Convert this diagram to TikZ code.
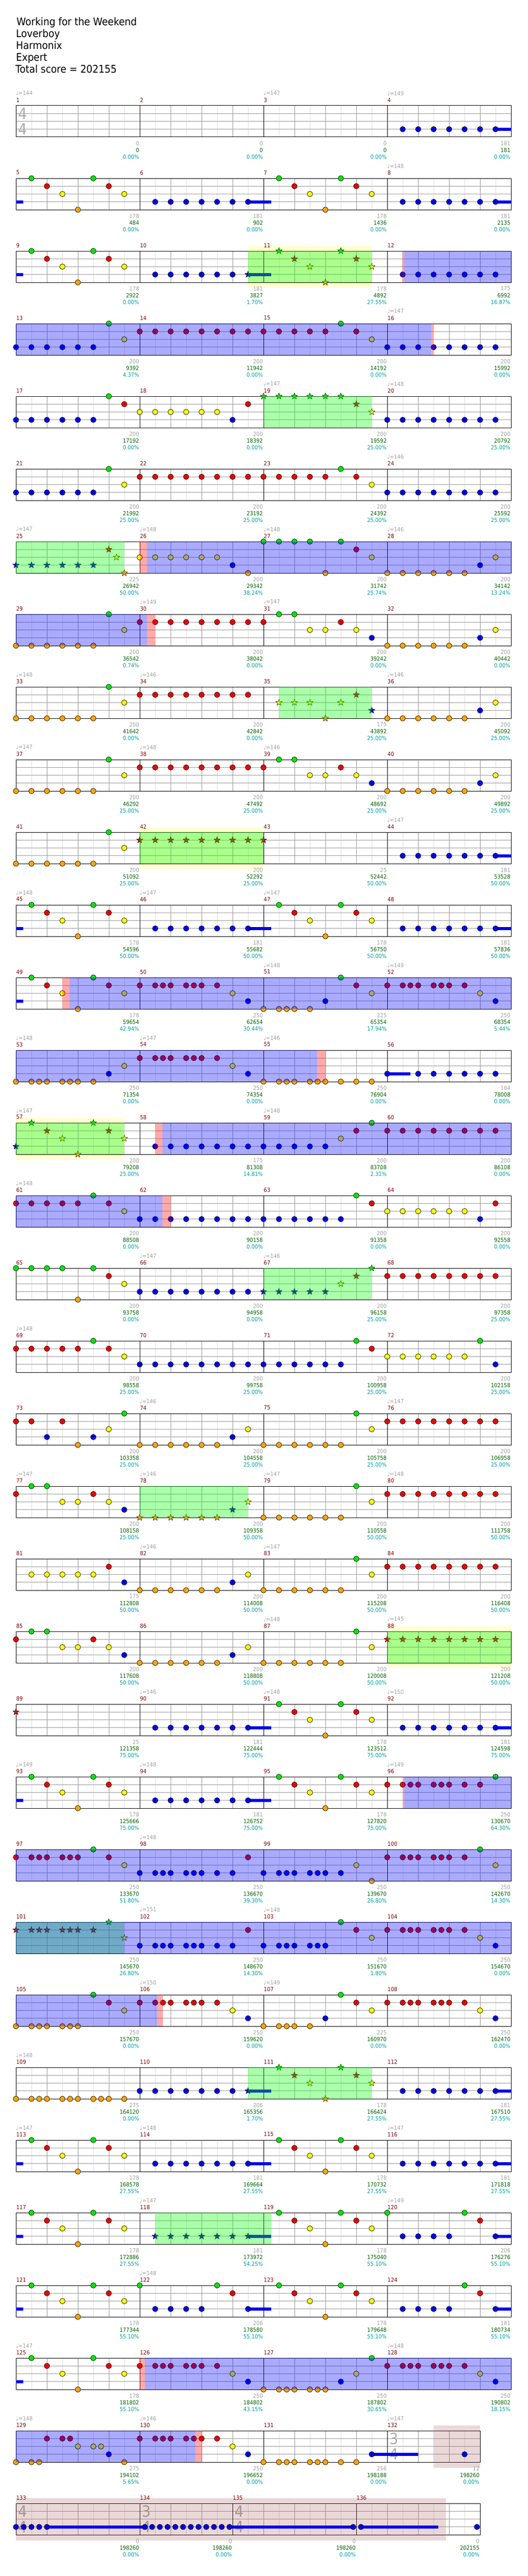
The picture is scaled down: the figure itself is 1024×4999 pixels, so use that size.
\documentclass[tikz,border=0pt]{standalone}
\usepackage{fontspec}
\setmainfont{DejaVu Sans}
\newfontfamily\cond[FakeStretch=0.9]{DejaVu Sans}
\usetikzlibrary{shapes.geometric}
\definecolor{lane0}{RGB}{0,232,0}
\definecolor{lane1}{RGB}{240,0,0}
\definecolor{lane2}{RGB}{255,255,0}
\definecolor{lane3}{RGB}{0,0,240}
\definecolor{lane4}{RGB}{255,165,0}
\definecolor{gridlight}{RGB}{221,221,221}
\definecolor{gridmid}{RGB}{153,153,153}
\definecolor{mnum}{RGB}{128,0,0}
\definecolor{txgray}{RGB}{160,160,160}
\definecolor{txgreen}{RGB}{0,100,0}
\definecolor{txteal}{RGB}{0,160,160}
\definecolor{band}{RGB}{255,255,208}
\definecolor{rosy}{RGB}{150,60,60}
\definecolor{tsig}{RGB}{170,170,170}
\definecolor{ovgreen}{RGB}{0,255,0}
\definecolor{ovblue}{RGB}{0,0,255}
\definecolor{ovred}{RGB}{255,0,0}
\newcommand\smallf{\cond\fontsize{11}{13}\selectfont}
\newcommand\headf{\cond\fontsize{20.5}{24}\selectfont}
\newcommand\sigf{\cond\fontsize{30}{32}\selectfont}
\newcounter{starc}
\tikzset{
  notestyle/.style={draw=black,line width=0.7pt},
  starnote/.style={star,star points=5,star point ratio=2.4,minimum size=13pt,inner sep=0pt,draw=black,line width=0.5pt},
  lightline/.style={draw=gridlight,line width=1pt},
  midline/.style={draw=gridmid,line width=1pt},
  barline/.style={draw=black,line width=1pt},
  spov/.style={fill=ovgreen,fill opacity=0.333},
  odov/.style={fill=ovblue,fill opacity=0.333},
  pkov/.style={fill=ovred,fill opacity=0.333},
  rosyov/.style={fill=rosy,fill opacity=0.2},
  txt/.style={inner sep=0pt,font=\smallf},
}
% notes: measure, list e/lane
\newcommand\mynotes[2]{\edef\mylist{#2}%
  \foreach \e/\l in \mylist {%
    \pgfmathsetmacro\xx{31+240*mod(#1-1,4)+30*\e}%
    \pgfmathsetmacro\yy{205+141*floor((#1-1)/4)+15.25*\l}%
    \filldraw[fill=lane\l,notestyle] (\xx,\yy) circle[radius=5.3pt];}}
\newcommand\mystars[2]{\edef\mylist{#2}%
  \foreach \e/\l in \mylist {%
    \pgfmathsetmacro\xx{31+240*mod(#1-1,4)+30*\e}%
    \pgfmathsetmacro\yy{205+141*floor((#1-1)/4)+15.25*\l}%
    \stepcounter{starc}%
    \node[starnote,fill=lane\l] (star\arabic{starc}) at (\xx,\yy) {};}}
\newcommand\myabs[3]{\filldraw[fill=lane#3,notestyle] (#1,#2) circle[radius=5.3pt];}
% sustain: row, x1, x2, lane
\newcommand\mysus[4]{\pgfmathsetmacro\yy{205+141*#1+15.25*#4}%
  \fill[lane#4] (#2,\yy-3) rectangle (#3,\yy+3);}
% overlay on staff: style, row, x1, x2
\newcommand\myov[4]{\pgfmathsetmacro\yy{205+141*#2}%
  \fill[#1] (#3,\yy) rectangle (#4,\yy+61);}
\newcommand\myband[3]{\pgfmathsetmacro\yy{205+141*#1}%
  \fill[band] (#2,\yy-10) rectangle (#3,\yy+71);}
\newcommand\myrosy[3]{\pgfmathsetmacro\yy{205+141*#1}%
  \fill[rosyov] (#2,\yy-10) rectangle (#3,\yy+72);}
% one measure grid: x0, T, eighths (8 or 6)
\newcommand\mymeas[3]{%
  \ifnum#3=8 \def\lightl{1,3,5,7}\def\midl{2,4,6}\else\def\lightl{1,3,5}\def\midl{2,4}\fi
  \foreach \k in \lightl {\draw[lightline] (#1+30*\k,#2) -- (#1+30*\k,#2+61);}
  \foreach \k in \midl {\draw[midline] (#1+30*\k,#2) -- (#1+30*\k,#2+61);}
  \foreach \j in {15.25,30.5,45.75} {\draw[midline] (#1,#2+\j) -- (#1+30*#3,#2+\j);}
  \draw[barline] (#1,#2) -- (#1,#2+61);}
\newcommand\myrow[1]{\pgfmathsetmacro\myT{205+141*#1}%
  \foreach \c in {0,1,2,3}{\mymeas{31+240*\c}{\myT}{8}}
  \draw[barline] (31,\myT) rectangle (991,\myT+61);}
% texts: x0, xend, T, measure, gray, green, pct
\newcommand\mymx[7]{%
  \node[txt,anchor=west,text=mnum] (num#4) at (#1+0.5,#3-11) {#4};
  \node[txt,anchor=east,text=txgray] (gs#4) at (#2-1,#3+73) {#5};
  \node[txt,anchor=east,text=txgreen] (sc#4) at (#2-1,#3+86) {#6};
  \node[txt,anchor=east,text=txteal] (pc#4) at (#2-1,#3+99) {#7\%};}
\newcommand\mym[4]{\pgfmathsetmacro\xa{31+240*mod(#1-1,4)}%
  \pgfmathsetmacro\ya{205+141*floor((#1-1)/4)}%
  \mymx{\xa}{\xa+240}{\ya}{#1}{#2}{#3}{#4}}
\newcommand\mybpm[2]{\pgfmathsetmacro\xa{31+240*mod(#1-1,4)}%
  \pgfmathsetmacro\ya{205+141*floor((#1-1)/4)}%
  \node[txt,anchor=west,text=txgray] (bpm#1) at (\xa,\ya-24) {♩=#2};}
\newcommand\mysig[5]{% name, x0, T, top, bottom
  \node[inner sep=0pt,font=\sigf,text=tsig] (#1a) at (#2+13,#3+15.5) {#4};
  \node[inner sep=0pt,font=\sigf,text=tsig] (#1b) at (#2+13,#3+45.5) {#5};}
\def\pA{1/0,2/1,3/2,4/4,5/0,6/1,7/2}
\def\pB{1/3,2/3,3/3,4/3,5/3,6/3,7/3}
\def\pR{0/1,1/1,2/1,3/1,4/1,5/1,6/1,7/1}
\def\pBB{0/3,1/3,2/3,3/3,4/3,5/3,6/3,7/3}
\def\pOB{0/4,1/4,2/4,3/4,4/4,5/4,6/3,7/2}
\def\pOG{0/4,1/4,2/4,3/4,4/4,5/4,6/0,7/2}
\def\pRG{0/1,1/0,2/0,3/2,4/2,5/1,6/2,7/3}
\def\pGG{0/0,1/0,2/0,3/0,4/4,5/0,6/1,7/2}
\def\pRYB{0/1,1/1,1.5/1,2/1,3/1,3.5/1,4/1,5/1,6/2,7/3}
\begin{document}
\begin{tikzpicture}[x=1pt,y=-1pt]
\useasboundingbox (0,0) rectangle (1024,4999);
\fill[white] (0,0) rectangle (1024,4999);
% header
\node[anchor=base west,inner sep=0pt,font=\headf] (title) at (32,49.3) {Working for the Weekend};
\node[anchor=base west,inner sep=0pt,font=\headf] (artist) at (31,72.3) {Loverboy};
\node[anchor=base west,inner sep=0pt,font=\headf] (charter) at (31,95.3) {Harmonix};
\node[anchor=base west,inner sep=0pt,font=\headf] (level) at (31,118.3) {Expert};
\node[anchor=base west,inner sep=0pt,font=\headf] (total) at (30,141.3) {Total score = 202155};
% yellow bands
\myband{2}{481}{721}
\myband{10}{271}{511}
\myband{14}{31}{241}
\myband{21}{751}{991}
% grids
\foreach \r in {0,...,31}{\myrow{\r}}
\mymeas{31}{4717}{8}\mymeas{271}{4717}{8}\mymeas{511}{4717}{8}\mymeas{751}{4717}{6}
\draw[barline] (31,4717) rectangle (931,4778);
\mymeas{31}{4858}{8}\mymeas{271}{4858}{6}\mymeas{451}{4858}{8}\mymeas{691}{4858}{8}
\draw[barline] (31,4858) rectangle (931,4919);
% time signatures
\mysig{ts1}{31}{205}{4}{4}
\mysig{ts132}{751}{4717}{3}{4}
\mysig{ts133}{31}{4858}{4}{4}
\mysig{ts134}{271}{4858}{3}{4}
\mysig{ts135}{451}{4858}{4}{4}
% rosy regions
\myrosy{32}{841}{931}
\myrosy{33}{31}{865}
% sustains
\mysus{0}{961}{991}{3}
\mysus{1}{31}{45}{3}\mysus{1}{481}{526}{3}\mysus{1}{961}{991}{3}
\mysus{2}{31}{45}{3}\mysus{2}{481}{526}{3}
\mysus{10}{961}{991}{3}
\mysus{11}{31}{45}{3}\mysus{11}{481}{526}{3}\mysus{11}{961}{991}{3}
\mysus{12}{31}{45}{3}
\mysus{13}{751}{796}{3}
\mysus{22}{481}{526}{3}\mysus{22}{961}{991}{3}
\mysus{23}{31}{45}{3}\mysus{23}{481}{526}{3}
\mysus{27}{481}{526}{3}\mysus{27}{961}{991}{3}
\mysus{28}{31}{45}{3}\mysus{28}{481}{526}{3}\mysus{28}{961}{991}{3}
\mysus{29}{31}{45}{3}\mysus{29}{481}{526}{3}\mysus{29}{961}{991}{3}
\mysus{30}{31}{45}{3}\mysus{30}{481}{526}{3}\mysus{30}{961}{991}{3}
\mysus{31}{31}{45}{3}
\mysus{32}{721}{811}{3}
\mysus{33}{91}{281}{3}\mysus{33}{445}{685}{3}\mysus{33}{700}{850}{3}
% notes
\mynotes{4}{\pB}
\mynotes{5}{\pA}\mynotes{6}{\pB}\mynotes{7}{\pA}\mynotes{8}{\pB}
\mynotes{9}{\pA}\mynotes{10}{1/3,2/3,3/3,4/3,5/3,6/3}\mystars{10}{7/3}\mystars{11}{\pA}\mynotes{12}{\pB}
\mynotes{13}{0/3,1/3,2/3,3/3,4/3,5/3,6/0,7/2}\mynotes{14}{\pR}\mynotes{15}{0/1,1/1,2/1,3/1,4/1,5/0,6/1,7/2}\mynotes{16}{\pBB}
\mynotes{17}{0/3,1/3,2/3,3/3,4/3,5/3,6/0,7/1}\mynotes{18}{0/2,1/2,2/2,3/2,4/2,5/2,6/3,7/1}\mystars{19}{0/0,1/0,2/0,3/0,4/0,5/0,6/1,7/2}\mynotes{20}{\pBB}
\mynotes{21}{0/3,1/3,2/3,3/3,4/3,5/3,6/0,7/2}\mynotes{22}{\pR}\mynotes{23}{0/1,1/1,2/1,3/1,4/1,5/0,6/1,7/2}\mynotes{24}{\pBB}
\mystars{25}{0/3,1/3,2/3,3/3,4/3,5/3,6/1,6.5/2,7/4}\mynotes{26}{0/2,1/2,2/2,3/2,4/2,5/2,6/3,7/4}\mynotes{27}{\pGG}\mynotes{28}{\pOB}
\mynotes{29}{\pOG}\mynotes{30}{\pR}\mynotes{31}{\pRG}\mynotes{32}{\pOB}
\mynotes{33}{\pOG}\mynotes{34}{\pR}\mystars{35}{1/2,2/2,3/2,4/4,5/2,6/1,7/3}\mynotes{36}{\pOB}
\mynotes{37}{\pOG}\mynotes{38}{\pR}\mynotes{39}{\pRG}\mynotes{40}{\pOB}
\mynotes{41}{\pOG}\mystars{42}{\pR}\mystars{43}{0/1}\mynotes{44}{\pB}
\mynotes{45}{\pA}\mynotes{46}{\pB}\mynotes{47}{\pA}\mynotes{48}{\pB}
\mynotes{49}{\pA}\mynotes{50}{\pRYB}\mynotes{51}{0/4,1/4,1.5/4,2/4,3/4,4/3,5/0,6/1,7/2}\mynotes{52}{\pRYB}
\mynotes{53}{0/4,1/4,1.5/4,2/4,3/4,3.5/4,4/4,5/4,6/3,7/2}\mynotes{54}{\pRYB}\mynotes{55}{0/4,1/4,1.5/4,2/4,3/4,3.5/4,4/4,5/4,6/4,7/4}\mynotes{56}{0/3,2/3,3/3,4/3,5/3,6/3,7/3}
\mystars{57}{0/3,1/0,2/1,3/2,4/4,5/0,6/1,7/2}\mynotes{58}{\pB}\mynotes{59}{0/3,1/3,2/3,3/3,4/3,5/2,6/1,7/0}\mynotes{60}{\pR}
\mynotes{61}{0/1,1/1,2/1,3/1,4/1,5/0,6/1,7/2}\mynotes{62}{\pBB}\mynotes{63}{0/3,1/3,2/3,3/3,4/3,5/3,6/0,7/1}\mynotes{64}{0/2,1/2,2/2,3/2,4/2,5/2,6/3,7/1}
\mynotes{65}{\pGG}\mynotes{66}{\pBB}\mystars{67}{0/3,1/3,2/3,3/3,4/3,5/2,6/1,7/0}\mynotes{68}{\pR}
\mynotes{69}{0/1,1/1,2/1,3/1,4/1,5/0,6/1,7/2}\mynotes{70}{\pBB}\mynotes{71}{0/3,1/3,2/3,3/3,4/3,5/3,6/0,7/1}\mynotes{72}{0/2,1/2,2/2,3/2,4/2,5/2,6/0,7/3}
\mynotes{73}{0/1,1/1,2/3,3/1,4/4,5/3,6/2,7/0}\mynotes{74}{\pOB}\mynotes{75}{\pOG}\mynotes{76}{\pR}
\mynotes{77}{\pRG}\mystars{78}{\pOB}\mynotes{79}{\pOG}\mynotes{80}{\pR}
\mynotes{81}{1/2,2/2,3/2,4/2,5/2,6/1,7/3}\mynotes{82}{\pOB}\mynotes{83}{\pOG}\mynotes{84}{\pR}
\mynotes{85}{\pRG}\mynotes{86}{\pOB}\mynotes{87}{\pOG}\mystars{88}{\pR}
\mystars{89}{0/1}\mynotes{90}{\pB}\mynotes{91}{\pA}\mynotes{92}{\pB}
\mynotes{93}{\pA}\mynotes{94}{\pB}\mynotes{95}{\pA}\mynotes{96}{0/1,1/1,1.5/1,2/1,3/1,3.5/1,4/1,5/1,6/1,7/0}
\mynotes{97}{0/1,1/1,1.5/1,2/1,3/1,3.5/1,4/1,5/0,6/1,7/2}\mynotes{98}{0/3,1/3,1.5/3,2/3,3/3,3.5/3,4/3,5/3,6/3,7/1}\mynotes{99}{0/3,1/3,1.5/3,2/3,3/3,3.5/3,4/3,5/3,6/2,7/4}\mynotes{100}{0/1,1/1,1.5/1,2/1,3/1,3.5/1,4/1,5/1,6/0,7/2}
\mystars{101}{0/1,1/1,1.5/1,2/1,3/1,3.5/1,4/1,5/1,6/0,7/2}\mynotes{102}{0/3,1/3,1.5/3,2/3,3/3,3.5/3,4/3,5/3,6/3,7/1}\mynotes{103}{0/3,1/3,1.5/3,2/3,3/3,3.5/3,4/3,5/0,6/1,7/2}\mynotes{104}{\pRYB}
\mynotes{105}{0/4,1/4,1.5/4,2/4,3/4,3.5/4,4/4,5/0,6/1,7/2}\mynotes{106}{\pRYB}\mynotes{107}{0/4,1/4,1.5/4,2/4,3/4,4/3,5/0,6/1,7/2}\mynotes{108}{\pRYB}
\mynotes{109}{0/4,1/4,1.5/4,2/4,3/4,3.5/4,4/4,5/4,5.5/4,6/4,7/4}\mynotes{110}{0/3,1/3,2/3,3/3,4/3,5/3,6/3}\mystars{110}{7/3}\mystars{111}{\pA}\mynotes{112}{\pB}
\mynotes{113}{\pA}\mynotes{114}{\pB}\mynotes{115}{\pA}\mynotes{116}{\pB}
\mynotes{117}{\pA}\mystars{118}{\pB}\mynotes{119}{\pA}\mynotes{120}{0/0,1/3,2/3,3/3,4/3,5/0,6/1,7/3}
\mynotes{121}{\pA}\mynotes{122}{0/0,1/3,2/3,3/3,4/3,5/0,6/1,7/3}\mynotes{123}{\pA}\mynotes{124}{1/3,2/3,3/3,4/3,5/0,6/1,7/3}
\mynotes{125}{\pA}\mynotes{126}{\pRYB}\mynotes{127}{0/4,1/4,1.5/4,2/4,3/4,3.5/4,4/4,5/3,6/2,7/0}\mynotes{128}{\pRYB}
\mynotes{129}{0/4,1/4,1.5/4,2/1,3/1,3.5/1,4/2,5/2,5.5/2,6/3,7/4}\mynotes{130}{\pRYB}\mynotes{131}{0/4,1/4,1.5/4,2/4,3/4,3.5/4,4/4,5/4,6/4,7/3}\mynotes{132}{5/3}
\foreach \x in {31,46,61,76,91,281,295,310,325,340,355,370,385,400,415,430,445,685,700,925}{\myabs{\x}{4903.75}{3}}
% star power phrases (green)
\myov{spov}{2}{481}{721}\myov{spov}{4}{511}{721}\myov{spov}{6}{31}{241}\myov{spov}{8}{541}{721}
\myov{spov}{10}{271}{511}\myov{spov}{14}{31}{241}\myov{spov}{16}{511}{721}\myov{spov}{19}{271}{481}
\myov{spov}{21}{751}{991}\myov{spov}{25}{31}{241}\myov{spov}{27}{481}{721}\myov{spov}{29}{301}{526}
% activations (blue)
\myov{odov}{2}{784}{991}\myov{odov}{3}{31}{836}\myov{odov}{6}{285}{991}\myov{odov}{7}{31}{285}
\myov{odov}{12}{135}{991}\myov{odov}{13}{31}{615}\myov{odov}{14}{315}{991}\myov{odov}{15}{31}{315}
\myov{odov}{23}{784}{991}\myov{odov}{24}{31}{991}\myov{odov}{25}{31}{991}\myov{odov}{26}{31}{305}
\myov{odov}{31}{281}{991}\myov{odov}{32}{31}{379}
% pink markers
\myov{pkov}{2}{780}{784}\myov{pkov}{3}{836}{841}\myov{pkov}{6}{271}{285}\myov{pkov}{7}{285}{301}
\myov{pkov}{12}{121}{135}\myov{pkov}{13}{615}{631}\myov{pkov}{14}{301}{315}\myov{pkov}{15}{315}{331}
\myov{pkov}{23}{781}{784}\myov{pkov}{26}{305}{316}\myov{pkov}{31}{271}{281}\myov{pkov}{32}{379}{392}
% texts
\foreach \m/\g/\s/\p in {1/0/0/0.00,2/0/0/0.00,3/0/0/0.00,4/181/181/0.00,
5/178/484/0.00,6/181/902/0.00,7/178/1436/0.00,8/181/2135/0.00,
9/178/2922/0.00,10/181/3827/1.70,11/178/4892/27.55,12/175/6992/16.87,
13/200/9392/4.37,14/200/11942/0.00,15/200/14192/0.00,16/200/15992/0.00,
17/200/17192/0.00,18/200/18392/0.00,19/200/19592/25.00,20/200/20792/25.00,
21/200/21992/25.00,22/200/23192/25.00,23/200/24392/25.00,24/200/25592/25.00,
25/225/26942/50.00,26/200/29342/38.24,27/200/31742/25.74,28/200/34142/13.24,
29/200/36542/0.74,30/200/38042/0.00,31/200/39242/0.00,32/200/40442/0.00,
33/200/41642/0.00,34/200/42842/0.00,35/175/43892/25.00,36/200/45092/25.00,
37/200/46292/25.00,38/200/47492/25.00,39/200/48692/25.00,40/200/49892/25.00,
41/200/51092/25.00,42/200/52292/25.00,43/25/52442/50.00,44/181/53528/50.00,
45/178/54596/50.00,46/181/55682/50.00,47/178/56750/50.00,48/181/57836/50.00,
49/178/59654/42.94,50/250/62654/30.44,51/225/65354/17.94,52/250/68354/5.44,
53/250/71354/0.00,54/250/74354/0.00,55/250/76904/0.00,56/184/78008/0.00,
57/200/79208/25.00,58/175/81308/14.81,59/200/83708/2.31,60/200/86108/0.00,
61/200/88508/0.00,62/200/90158/0.00,63/200/91358/0.00,64/200/92558/0.00,
65/200/93758/0.00,66/200/94958/0.00,67/200/96158/25.00,68/200/97358/25.00,
69/200/98558/25.00,70/200/99758/25.00,71/200/100958/25.00,72/200/102158/25.00,
73/200/103358/25.00,74/200/104558/25.00,75/200/105758/25.00,76/200/106958/25.00,
77/200/108158/25.00,78/200/109358/50.00,79/200/110558/50.00,80/200/111758/50.00,
81/175/112808/50.00,82/200/114008/50.00,83/200/115208/50.00,84/200/116408/50.00,
85/200/117608/50.00,86/200/118808/50.00,87/200/120008/50.00,88/200/121208/50.00,
89/25/121358/75.00,90/181/122444/75.00,91/178/123512/75.00,92/181/124598/75.00,
93/178/125666/75.00,94/181/126752/75.00,95/178/127820/75.00,96/250/130670/64.30,
97/250/133670/51.80,98/250/136670/39.30,99/250/139670/26.80,100/250/142670/14.30,
101/250/145670/26.80,102/250/148670/14.30,103/250/151670/1.80,104/250/154670/0.00,
105/250/157670/0.00,106/250/159620/0.00,107/225/160970/0.00,108/250/162470/0.00,
109/275/164120/0.00,110/206/165356/1.70,111/178/166424/27.55,112/181/167510/27.55,
113/178/168578/27.55,114/181/169664/27.55,115/178/170732/27.55,116/181/171818/27.55,
117/178/172886/27.55,118/181/173972/54.25,119/178/175040/55.10,120/206/176276/55.10,
121/178/177344/55.10,122/206/178580/55.10,123/178/179648/55.10,124/181/180734/55.10,
125/178/181802/55.10,126/250/184802/43.15,127/250/187802/30.65,128/250/190802/18.15,
129/275/194102/5.65,130/250/196652/0.00,131/256/198188/0.00}{\mym{\m}{\g}{\s}{\p}}
\mymx{751}{931}{4717}{132}{12}{198260}{0.00}
\mymx{31}{271}{4858}{133}{0}{198260}{0.00}
\mymx{271}{451}{4858}{134}{0}{198260}{0.00}
\mymx{451}{691}{4858}{135}{0}{198260}{0.00}
\mymx{691}{931}{4858}{136}{0}{202155}{0.00}
\foreach \m/\b in {1/144,3/147,4/149,8/148,16/147,19/147,20/148,24/146,25/147,26/148,27/148,28/146,30/149,31/147,33/148,34/146,36/146,37/147,38/148,39/146,44/147,45/148,46/147,47/147,51/148,52/149,53/148,54/147,55/146,57/147,59/148,61/148,66/147,67/146,69/148,74/146,76/147,77/147,78/146,79/147,80/148,82/146,83/147,87/148,88/145,90/146,91/148,92/150,93/149,94/148,96/149,98/148,102/151,103/148,106/150,107/149,109/148,113/147,114/148,116/147,118/147,120/149,122/148,125/147,128/148,129/148,130/146,132/147}{\mybpm{\m}{\b}}
\end{tikzpicture}
\end{document}
